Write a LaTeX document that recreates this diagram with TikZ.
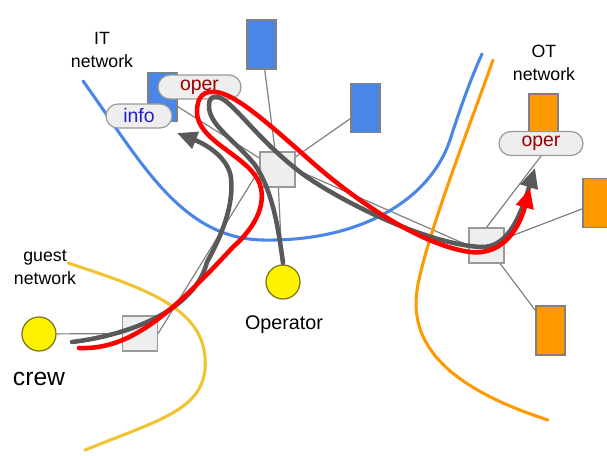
\documentclass[tikz,border=0pt]{standalone}
\usepackage{fontspec}
\setmainfont{Liberation Sans}
\usetikzlibrary{
  arrows.meta,
  backgrounds,
  shapes.misc,
}
\definecolor{itblue}{HTML}{4A86E8}
\definecolor{otorange}{HTML}{FF9900}
\definecolor{guestgold}{HTML}{F1C232}
\definecolor{boxgray}{HTML}{EEEEEE}
\definecolor{edgegray}{HTML}{999999}
\definecolor{flowgray}{HTML}{595959}
\definecolor{operred}{HTML}{990000}
\definecolor{infoblue}{HTML}{2222CC}
\tikzset{
  >={Triangle[length=15pt,width=13pt]},
}

\begin{document}
\begin{tikzpicture}[x=0.75pt, y=-0.75pt,
    device/.style={draw=gray, line width=0.9pt, minimum width=21.75pt, minimum height=36.75pt, inner sep=0pt},
    itdev/.style={device, fill=itblue},
    otdev/.style={device, fill=otorange},
    switch/.style={draw=edgegray, line width=0.9pt, fill=boxgray, minimum size=26.25pt, inner sep=0pt},
    host/.style={circle, draw=olive!80!black, line width=0.9pt, fill=yellow, minimum size=25.5pt, inner sep=0pt},
    pill/.style={rounded rectangle, draw=edgegray, line width=0.9pt, fill=boxgray, minimum height=18pt, inner sep=0pt, font=\fontsize{14.6}{17}\selectfont},
    netlabel/.style={align=center, inner sep=0pt, font=\fontsize{13.3}{17.25}\selectfont},
    link/.style={draw=gray, line width=0.9pt},
    border/.style={line width=2.3pt, line cap=round},
    flow/.style={line width=3.4pt, line cap=round},
  ]
  \clip (0,0) rectangle (607,456);

  \node [itdev] (itTop) at (261.5,44.5) {};
  \node [itdev] (itRight) at (365.5,108) {};
  \node [itdev] (itLeft) at (162.5,97) {};
  \node [otdev] (otTop) at (543.5,118.5) {};
  \node [otdev] (otRight) at (597.5,203) {};
  \node [otdev] (otBottom) at (550.5,330.5) {};

  \node [switch] (swCore) at (277.5,169.5) {};
  \node [switch] (swOt) at (486.5,245.5) {};
  \node [switch] (swGuest) at (140,333.5) {};

  \node [host] (crew) at (39,334) {};
  \node [host] (operator) at (283,282) {};

  \node [pill, minimum width=49.5pt, text=infoblue] (infoPill) at (139,116) {info};
  \node [pill, minimum width=62.25pt, text=operred] (itOper) at (199.5,87) {oper};
  \node [pill, minimum width=63pt, text=operred] (otOper) at (541,143.5) {oper};

  \node [netlabel] (itLabel) at (102,50) {IT\\network};
  \node [netlabel] (otLabel) at (544,63) {OT\\network};
  \node [netlabel] (guestLabel) at (45,267) {guest\\network};
  \node [inner sep=0pt, font=\fontsize{18.5}{22}\selectfont] (crewLabel) at (39,379) {crew};
  \node [inner sep=0pt, font=\fontsize{14.8}{18}\selectfont] (operatorLabel) at (284,325) {Operator};

  \begin{scope}[on background layer]
    \draw [link] (itTop) -- (swCore);
    \draw [link] (swCore) -- (operator);
    \draw [link] (itRight) -- (swCore);
    \draw [link] (itLeft) -- (swCore);
    \draw [link] (swCore.west) -- (swGuest.east);
    \draw [link] (swCore.east) -- (swOt.west);
    \draw [link] (crew) -- (swGuest);
    \draw [link] (swOt.north) -- (otOper.south);
    \draw [link] (swOt) -- (otRight);
    \draw [link] (swOt) -- (otBottom);

    \draw [border, itblue] (83,81) .. controls (140,160) and (180,238) .. (262,240)
      .. controls (360,242) and (430,200) .. (450,140)
      .. controls (458,115) and (470,80) .. (482,54);
    \draw [border, otorange] (493,60) .. controls (470,125) and (425,240) .. (417,290)
      .. controls (410,340) and (440,385) .. (548,420);
    \draw [border, guestgold] (68,263) .. controls (150,290) and (210,310) .. (205,370)
      .. controls (200,410) and (160,420) .. (85,450);
  \end{scope}

  \coordinate (crewOut) at (72,342);
  \coordinate (crewOutRed) at (79,348);
  \coordinate (operatorOut) at (283,263);
  \coordinate (infoIn) at (177,133);
  \coordinate (otOperIn) at (535,168);
  \coordinate (otOperInRed) at (530,188);

  \draw [flow, flowgray, ->] (crewOut) .. controls (130,335) and (195,310) .. (207,262)
    .. controls (222,235) and (234,205) .. (231,178)
    .. controls (229,160) and (210,146) .. (infoIn);
  \draw [flow, flowgray, ->] (operatorOut) .. controls (278,225) and (272,190) .. (255,165)
    .. controls (235,140) and (208,125) .. (209,105)
    .. controls (209,95) and (218,94) .. (228,103)
    .. controls (245,118) and (265,145) .. (300,172)
    .. controls (330,195) and (420,243) .. (480,247)
    .. controls (510,249) and (522,210) .. (otOperIn);
  \draw [flow, red, ->] (crewOutRed) .. controls (130,350) and (170,315) .. (233,247)
    .. controls (258,225) and (268,200) .. (258,180)
    .. controls (245,155) and (197,140) .. (197,112)
    .. controls (197,95) and (205,91) .. (215,92)
    .. controls (235,93) and (270,125) .. (313,163)
    .. controls (355,200) and (420,245) .. (470,252)
    .. controls (505,256) and (520,225) .. (otOperInRed);
\end{tikzpicture}
\end{document}
